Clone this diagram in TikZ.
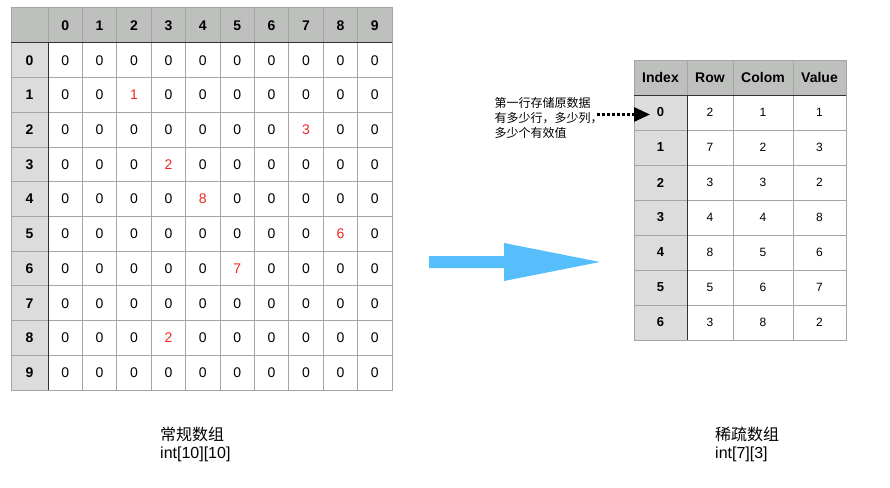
\documentclass[tikz,border=0pt]{standalone}
\usepackage{fontspec}
\setmainfont{Liberation Sans}
\newfontfamily\cjk{Noto Sans CJK SC}
\usetikzlibrary{arrows.meta}
\definecolor{hdrgray}{RGB}{190,192,190}
\definecolor{idxgray}{RGB}{220,220,220}
\definecolor{gridgray}{RGB}{165,165,165}
\definecolor{darkline}{RGB}{50,50,50}
\definecolor{cellred}{RGB}{240,40,30}
\definecolor{arrowblue}{RGB}{86,190,250}
\begin{document}
\begin{tikzpicture}[x=1pt,y=-1pt,
  cellbase/.style={draw=gridgray, line width=1pt, inner sep=0pt, outer sep=0pt, anchor=center},
  lcell/.style={cellbase, minimum width=34.4pt, minimum height=34.7pt, font=\fontsize{14}{16}\selectfont},
  lhdr/.style={cellbase, fill=hdrgray, minimum width=34.4pt, minimum height=35pt, font=\bfseries\fontsize{14}{16}\selectfont},
  lidx/.style={cellbase, fill=idxgray, minimum width=37pt, minimum height=34.7pt, font=\bfseries\fontsize{14}{16}\selectfont},
  lcorner/.style={cellbase, fill=hdrgray, minimum width=37pt, minimum height=35pt},
  rcell/.style={cellbase, minimum height=35pt, font=\fontsize{12}{14}\selectfont},
  rhdr/.style={cellbase, fill=hdrgray, minimum height=35pt, font=\bfseries\fontsize{14}{16}\selectfont},
  ridx/.style={cellbase, fill=idxgray, minimum width=53pt, minimum height=35pt, font=\bfseries\fontsize{13}{15}\selectfont},
  sepline/.style={draw=darkline, line width=1pt},
  note/.style={align=left, anchor=west, inner sep=0pt, font=\cjk\fontsize{12}{15}\selectfont},
  caption/.style={align=left, anchor=west, inner sep=0pt, font=\fontsize{16}{18}\selectfont},
  dotarrow/.style={line width=3pt, dash pattern=on 3pt off 2pt, -{Triangle[length=16pt,width=14pt]}}
]
\useasboundingbox (0,0) rectangle (890,487);
% ---------- left table ----------
\node[lcorner] (L-h-h) at (29.5,25.5) {};
\foreach \c in {0,...,9}{
  \pgfmathsetmacro\cx{48+34.4*\c+17.2}
  \node[lhdr] (L-h-\c) at (\cx,25.5) {\c};
}
\foreach \rowlist [count=\r from 0] in {
 {0,0,0,0,0,0,0,0,0,0},
 {0,0,1,0,0,0,0,0,0,0},
 {0,0,0,0,0,0,0,3,0,0},
 {0,0,0,2,0,0,0,0,0,0},
 {0,0,0,0,8,0,0,0,0,0},
 {0,0,0,0,0,0,0,0,6,0},
 {0,0,0,0,0,7,0,0,0,0},
 {0,0,0,0,0,0,0,0,0,0},
 {0,0,0,2,0,0,0,0,0,0},
 {0,0,0,0,0,0,0,0,0,0}}{
  \pgfmathsetmacro\cy{43+34.7*\r+17.35}
  \node[lidx] (L-\r-h) at (29.5,\cy) {\r};
  \foreach \v [count=\c from 0] in \rowlist {
    \pgfmathsetmacro\cx{48+34.4*\c+17.2}
    \ifnum\v=0 \def\cc{black}\else\def\cc{cellred}\fi
    \node[lcell, text=\cc] (L-\r-\c) at (\cx,\cy) {\v};
  }
}
\draw[sepline] (L-h-h.south west) -- (L-h-9.south east);
\draw[sepline] (L-0-h.north east) -- (L-9-h.south east);
% ---------- right table ----------
\foreach \name/\cx/\w in {Index/660.5/53, Row/710/46, Colom/763/60, Value/819.5/53}{
  \node[rhdr, minimum width=\w pt] (R-h-\name) at (\cx,77.5) {\name};
}
\foreach \a/\b/\d [count=\r from 0] in {2/1/1, 7/2/3, 3/3/2, 4/4/8, 8/5/6, 5/6/7, 3/8/2}{
  \pgfmathsetmacro\cy{95+35*\r+17.5}
  \node[ridx] (R-\r-i) at (660.5,\cy) {\r};
  \node[rcell, minimum width=46pt] (R-\r-a) at (710,\cy) {\a};
  \node[rcell, minimum width=60pt] (R-\r-b) at (763,\cy) {\b};
  \node[rcell, minimum width=53pt] (R-\r-d) at (819.5,\cy) {\d};
}
\draw[sepline] (R-h-Index.south west) -- (R-h-Value.south east);
\draw[sepline] (R-0-i.north east) -- (R-6-i.south east);
% ---------- big blue arrow ----------
\fill[arrowblue] (429,256) -- (504,256) -- (504,243) -- (600,262) -- (504,281) -- (504,268) -- (429,268) -- cycle;
% ---------- annotation ----------
\node[note] (note) at (494.5,118) {第一行存储原数据\\有多少行，多少列，\\多少个有效值};
\coordinate (dotS) at (597,114.5);
\coordinate (dotE) at (650,114.5);
\draw[dotarrow] (dotS) -- (dotE);
% ---------- captions ----------
\node[caption] (capL) at (160,444) {{\cjk 常规数组}\\int[10][10]};
\node[caption] (capR) at (715,444) {{\cjk 稀疏数组}\\int[7][3]};
\end{tikzpicture}
\end{document}
